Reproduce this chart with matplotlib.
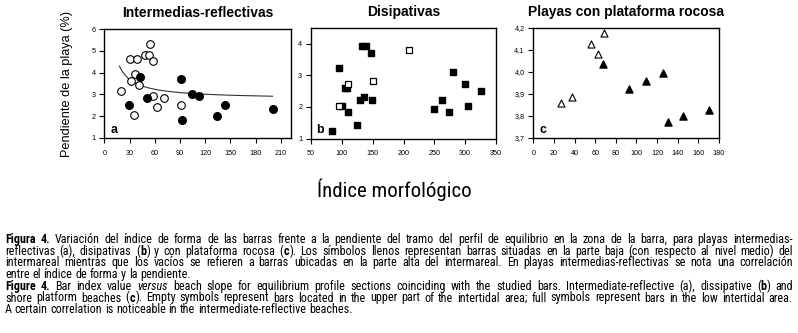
import matplotlib
matplotlib.use('Agg')
import matplotlib.pyplot as plt
import numpy as np
from matplotlib import font_manager

# Panel a: intermedias-reflectivas (open = upper intertidal, full = low)
a_open_x = [19.4, 30.5, 39.2, 31.3, 36.4, 35.7, 41.6, 48.3, 53.1, 54.7, 57.8, 58.2, 63.0, 70.5, 90.7]
a_open_y = [3.17, 4.62, 4.62, 3.62, 3.92, 2.06, 3.43, 4.82, 4.82, 5.33, 4.52, 2.92, 2.42, 2.83, 2.53]
a_full_x = [29.7, 42.0, 50.3, 90.7, 92.3, 103.8, 112.9, 133.5, 143.8, 200.9]
a_full_y = [2.53, 3.81, 2.83, 3.72, 1.82, 3.02, 2.92, 2.02, 2.53, 2.32]
# trend line y = c0 + c1 / x, drawn between these x values
trend_c0, trend_c1 = 2.78, 27.3
trend_xmin, trend_xmax = 18, 200

# Panel b: disipativas
b_open_x = [94.6, 110.8, 151.1, 208.6]
b_open_y = [2.02, 2.72, 2.83, 3.81]
b_full_x = [83.9, 94.6, 101.0, 104.8, 108.0, 109.7, 125.3, 130.1, 136.0, 133.3, 138.7,
            147.8, 149.5, 249.5, 262.9, 274.2, 280.1, 300.0, 304.3, 325.3]
b_full_y = [1.24, 3.22, 2.02, 2.61, 2.61, 1.83, 1.42, 2.22, 2.33, 3.93, 3.93,
            3.72, 2.22, 1.94, 2.23, 1.83, 3.11, 2.72, 2.02, 2.52]

# Panel c: playas con plataforma rocosa
c_open_x = [26.4, 37.6, 56.3, 63.0, 68.5]
c_open_y = [3.858, 3.888, 4.128, 4.080, 4.179]
c_full_x = [67.5, 93.2, 109.3, 126.0, 130.5, 145.3, 170.0]
c_full_y = [4.038, 3.922, 3.958, 3.996, 3.771, 3.798, 3.828]

titles = ['Intermedias-reflectivas', 'Disipativas', 'Playas con plataforma rocosa']
ylabel = 'Pendiente de la playa (%)'
xlabel = 'Índice morfológico'

caption = [
    ('*Figura 4.* Variación del índice de forma de las barras frente a la pendiente del tramo del perfil de '
     'equilibrio en la zona de la barra, para playas intermedias-', True),
    ('reflectivas (a), disipativas (*b*) y con plataforma rocosa (*c*). Los símbolos llenos representan barras '
     'situadas en la parte baja (con respecto al nivel medio) del', True),
    ('intermareal mientras que los vacíos se refieren a barras ubicadas en la parte alta del intermareal. '
     'En playas intermedias-reflectivas se nota una correlación', True),
    ('entre el índice de forma y la pendiente.', False),
    ('*Figure 4.* Bar index value _versus_ beach slope for equilibrium profile sections coinciding with the '
     'studied bars. Intermediate-reflective (a), dissipative (*b*) and', True),
    ('shore platform beaches (*c*). Empty symbols represent bars located in the upper part of the intertidal '
     'area; full symbols represent bars in the low intertidal area.', True),
    ('A certain correlation is noticeable in the intermediate-reflective beaches.', False),
]

W, H = 798, 333
names = {f.name for f in font_manager.fontManager.ttflist}
narrow = next(n for n in ['Liberation Sans Narrow', 'Roboto Condensed', 'PT Sans Narrow',
                          'Archivo Narrow', 'Liberation Sans'] if n in names)
plt.rcParams['font.family'] = ['Liberation Sans', 'DejaVu Sans']


def px_axes(l, t, r, b):
    return [l / W, 1 - b / H, (r - l) / W, (b - t) / H]


def style_axes(ax, title, letter):
    ax.set_title(title, fontsize=10, fontweight='bold', pad=8.5)
    ax.tick_params(direction='out', length=3.3, width=0.8, labelsize=5.2)
    ax.tick_params(axis='x', pad=5)
    ax.tick_params(axis='y', pad=3)
    for s in ax.spines.values():
        s.set_linewidth(1.0)
    ax.text(0.05, 0.075, letter, transform=ax.transAxes, fontsize=9,
            fontweight='bold', ha='center', va='center')


fig = plt.figure(figsize=(W / 100, H / 100), dpi=100)

# a
ax = fig.add_axes(px_axes(104.3, 29, 291, 138))
ax.scatter(a_open_x, a_open_y, s=30, facecolors='white', edgecolors='black', linewidths=0.8, zorder=3)
ax.scatter(a_full_x, a_full_y, s=30, color='black', zorder=3)
xt = np.linspace(trend_xmin, trend_xmax, 200)
ax.plot(xt, trend_c0 + trend_c1 / xt, color='#333333', lw=0.8, zorder=2)
ax.set_xlim(0, 222)
ax.set_ylim(1, 6)
ax.set_xticks(np.arange(0, 211, 30))
ax.set_yticks(np.arange(1, 7, 1))
style_axes(ax, titles[0], 'a')
ax.set_ylabel(ylabel, fontsize=9.2, labelpad=13)

# b
ax = fig.add_axes(px_axes(311, 28, 496, 138.5))
ax.scatter(b_full_x, b_full_y, s=22, marker='s', color='black', zorder=3)
ax.scatter(b_open_x, b_open_y, s=22, marker='s', facecolors='white', edgecolors='black', linewidths=0.9, zorder=4)
ax.set_xlim(50, 350)
ax.set_ylim(1, 4.5)
ax.set_xticks(np.arange(50, 351, 50))
ax.set_yticks(np.arange(1, 5, 1))
style_axes(ax, titles[1], 'b')

# c
ax = fig.add_axes(px_axes(533.3, 28, 719, 138))
ax.scatter(c_open_x, c_open_y, s=26, marker='^', facecolors='white', edgecolors='black', linewidths=0.8, zorder=3)
ax.scatter(c_full_x, c_full_y, s=26, marker='^', color='black', zorder=3)
ax.set_xlim(0, 180)
ax.set_ylim(3.7, 4.2)
ax.set_xticks(np.arange(0, 181, 20))
cy = np.round(np.arange(3.7, 4.21, 0.1), 1)
ax.set_yticks(cy)
ax.set_yticklabels([f'{v:.1f}'.replace('.', ',') for v in cy])
style_axes(ax, titles[2], 'c')

fig.text(394 / W, 1 - 190 / H, xlabel, fontsize=15, family=narrow, ha='center', va='center')

# caption, justified word by word
renderer = fig.canvas.get_renderer()


def parse(line):
    words, bold, ital = [], False, False
    for w in line.split(' '):
        segs, cur = [], ''
        for ch in w:
            if ch in '*_':
                if cur:
                    segs.append((cur, bold, ital))
                    cur = ''
                if ch == '*':
                    bold = not bold
                else:
                    ital = not ital
            else:
                cur += ch
        if cur:
            segs.append((cur, bold, ital))
        words.append(segs)
    return words


def make(s, b, i, size, x=0, y=0):
    return fig.text(x / W, 1 - y / H, s, fontsize=size, family=narrow,
                    fontweight='bold' if b else 'normal',
                    fontstyle='italic' if i else 'normal', va='baseline', ha='left')


def width(s, b, i, size):
    t = make(s, b, i, size)
    w = t.get_window_extent(renderer).width
    t.remove()
    return w


def word_width(segs, size):
    return sum(width(s, b, i, size) for s, b, i in segs)


parsed = [(parse(l), just) for l, just in caption]
base = 10
space = width('a a', False, False, base) - width('aa', False, False, base)
nat = max(sum(word_width(w, base) for w in ws) + space * (len(ws) - 1) for ws, j in parsed if j)
left, right = 5, 793
size = base * (right - left) / nat * 0.95
space = width('a a', False, False, size) - width('aa', False, False, size)

baselines = [243, 254.7, 266.4, 278.1, 289.8, 301.5, 313.2]
for (ws, just), yb in zip(parsed, baselines):
    wws = [word_width(w, size) for w in ws]
    gap = (right - left - sum(wws)) / (len(ws) - 1) if just else space
    x = left
    for w, ww in zip(ws, wws):
        xx = x
        for s, b, i in w:
            make(s, b, i, size, xx, yb)
            xx += width(s, b, i, size) + 0.3
        x += ww + gap

fig.savefig('out.png', dpi=100)
